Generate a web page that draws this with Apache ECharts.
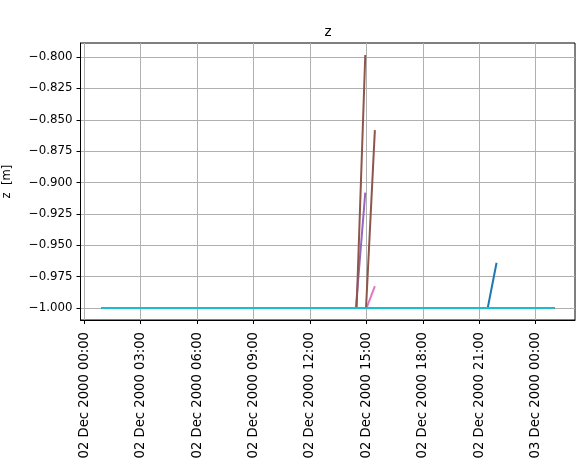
<!DOCTYPE html>
<html>
<head>
<meta charset="utf-8">
<script src="https://cdn.jsdelivr.net/npm/echarts@6/dist/echarts.min.js"></script>
<style>html,body{margin:0;padding:0;background:#fff}#c{width:582px;height:465px}</style>
</head>
<body>
<div id="c"></div>
<script>
// x values are hours since 02 Dec 2000 00:00
const xTickHours = [0, 3, 6, 9, 12, 15, 18, 21, 24];
const xTickLabels = ['02 Dec 2000 00:00','02 Dec 2000 03:00','02 Dec 2000 06:00','02 Dec 2000 09:00','02 Dec 2000 12:00','02 Dec 2000 15:00','02 Dec 2000 18:00','02 Dec 2000 21:00','03 Dec 2000 00:00'];
const yTicks = [-1.0, -0.975, -0.95, -0.925, -0.9, -0.875, -0.85, -0.825, -0.8];

// series colours (matplotlib tab10 cycle, 20 series)
const seriesColors = ['#1f77b4','#ff7f0e','#2ca02c','#d62728','#9467bd','#8c564b','#e377c2','#7f7f7f','#bcbd22','#17becf',
                      '#1f77b4','#ff7f0e','#2ca02c','#d62728','#9467bd','#8c564b','#e377c2','#7f7f7f','#bcbd22','#17becf'];

// flat (unchanged) tracks
const flatTimes = [0.89, 24.99];
const flatZ = [-1.0, -1.0];

// tracks that rise at the end
const s0Times = [0.89, 21.45, 21.92];   const s0Z = [-1.0, -1.0, -0.9639];
const s4Times = [0.89, 14.44, 14.94];   const s4Z = [-1.0, -1.0, -0.9081];
const s5Times = [0.89, 14.48, 14.94];   const s5Z = [-1.0, -1.0, -0.7984];
const s6Times = [0.89, 15.01, 15.45];   const s6Z = [-1.0, -1.0, -0.9825];
const s15Times = [0.89, 14.98, 15.45];  const s15Z = [-1.0, -1.0, -0.8582];

const special = {0: [s0Times, s0Z], 4: [s4Times, s4Z], 5: [s5Times, s5Z], 6: [s6Times, s6Z], 15: [s15Times, s15Z]};

const zip = (a, b) => a.map((v, i) => [v, b[i]]);
const series = seriesColors.map((c, i) => {
  const d = special[i] ? zip(special[i][0], special[i][1]) : zip(flatTimes, flatZ);
  return {type: 'line', data: d, showSymbol: false, symbol: 'none', animation: false,
          z: 2, z2: i,
          lineStyle: {color: c, width: 2}, itemStyle: {color: c}};
});

const fmtY = v => (v < 0 ? '\u2212' : '') + Math.abs(v).toFixed(3);
const font = 'DejaVu Sans';

const chart = echarts.init(document.getElementById('c'), null, {renderer: 'canvas'});
chart.setOption({
  animation: false,
  backgroundColor: '#fff',
  title: {text: 'z', left: 323, top: 20, textAlign: 'center',
          textStyle: {fontFamily: font, fontSize: 13.5, fontWeight: 'normal', color: '#000'}},
  grid: {left: 80.5, right: 7, top: 43, bottom: 145, show: true, borderColor: '#000', borderWidth: 1,
         containLabel: false, outerBoundsMode: 'none'},
  xAxis: {
    type: 'value', min: -0.2, max: 26.09,
    axisLine: {show: true, onZero: false, lineStyle: {color: '#000', width: 1}},
    axisTick: {show: true, length: 4, inside: false, customValues: xTickHours, lineStyle: {color: '#000'}},
    axisLabel: {customValues: xTickHours, rotate: 90, margin: 12, color: '#000', fontFamily: font, fontSize: 13.2,
                formatter: v => { const i = xTickHours.indexOf(Math.round(v)); return i >= 0 ? xTickLabels[i] : ''; }},
    splitLine: {show: true, lineStyle: {color: '#b0b0b0', width: 1}}
  },
  yAxis: {
    type: 'value', min: -1.00956, max: -0.7888,
    name: 'z  [m]', nameLocation: 'middle', nameRotate: 90, nameGap: 68,
    nameTextStyle: {fontFamily: font, fontSize: 11.6, color: '#000'},
    axisLine: {show: true, onZero: false, lineStyle: {color: '#000', width: 1}},
    axisTick: {show: true, length: 4, inside: false, customValues: yTicks, lineStyle: {color: '#000'}},
    axisLabel: {customValues: yTicks, margin: 8, color: '#000', fontFamily: font, fontSize: 11.8, formatter: fmtY},
    splitLine: {show: true, lineStyle: {color: '#b0b0b0', width: 1}}
  },
  series: series
});
</script>
</body>
</html>
